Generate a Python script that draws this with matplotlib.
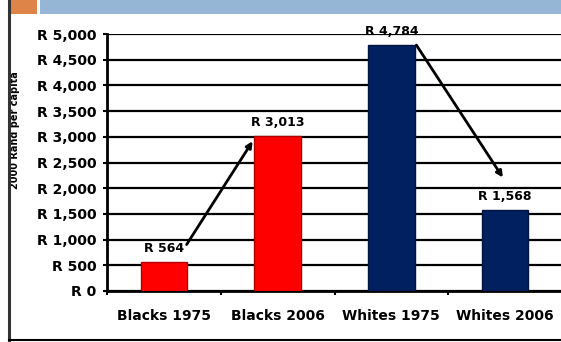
import numpy as np
import matplotlib
matplotlib.use('Agg')
import matplotlib.pyplot as plt
from matplotlib.patches import Rectangle
from matplotlib.lines import Line2D

plt.rcParams['font.family'] = ['DejaVu Sans']

# data
categories = ['Blacks 1975', 'Blacks 2006', 'Whites 1975', 'Whites 2006']
income = [564, 3013, 4784, 1568]
bar_colors = ['#FF0000', '#FF0000', '#002060', '#002060']
edge_colors = ['#B00000', '#B00000', '#001540', '#001540']

W, H = 561, 342
fig = plt.figure(figsize=(W / 100, H / 100), dpi=100)

# slide decoration
fig.add_artist(Rectangle((9 / W, 1 - 14 / H), 28 / W, 14 / H, transform=fig.transFigure,
                         facecolor='#DF8449', edgecolor='none'))
fig.add_artist(Rectangle((40 / W, 1 - 14 / H), 1 - 40 / W, 14 / H, transform=fig.transFigure,
                         facecolor='#95B7D5', edgecolor='none'))
fig.add_artist(Line2D([9 / W, 9 / W], [0, 1], transform=fig.transFigure, color='#333333', lw=2.2))
fig.add_artist(Line2D([9 / W, 1], [2.5 / H, 2.5 / H], transform=fig.transFigure, color='black', lw=1.5))

ax = fig.add_axes([107 / W, 51 / H, 455 / W, 257 / H])
x = np.arange(len(categories))
ax.bar(x, income, width=0.41, color=bar_colors, edgecolor=edge_colors, linewidth=1, zorder=3)

ax.set_xlim(-0.5, 3.5)
ax.set_ylim(0, 5000)
yt = np.arange(0, 5001, 500)
ax.set_yticks(yt)
ax.set_yticklabels([f'R {v:,}' for v in yt], fontsize=10, fontweight='bold')
ax.yaxis.grid(True, color='black', lw=1.6, zorder=0)
ax.tick_params(axis='y', length=3, width=1.5, pad=4.5)

ax.set_xticks(x)
ax.set_xticklabels(categories, fontsize=10, fontweight='bold')
ax.set_xticks(np.arange(-0.5, 3.0, 1), minor=True)
ax.tick_params(axis='x', which='major', length=0, pad=13)
ax.tick_params(axis='x', which='minor', length=3, width=1.5)

for s in ['top', 'right']:
    ax.spines[s].set_visible(False)
ax.spines['left'].set_linewidth(2)
ax.spines['bottom'].set_linewidth(2)

ax.set_ylabel('2000 Rand per capita', fontsize=7, fontweight='bold')
ax.yaxis.set_label_coords(-0.191, 0.626)

for xi, v in zip(x, income):
    ax.annotate(f'R {v:,}', (xi, v), xytext=(0, 5), textcoords='offset points',
                ha='center', va='bottom', fontsize=9, fontweight='bold', zorder=5)

# change arrows
arrow = dict(arrowstyle='-|>', color='black', lw=2, mutation_scale=9, shrinkA=0, shrinkB=0)
ax.annotate('', xy=(x[1] - 0.22, income[1] - 100), xytext=(x[0] + 0.2, income[0] + 340),
            arrowprops=arrow, zorder=6)
ax.annotate('', xy=(x[3] - 0.02, income[3] + 640), xytext=(x[2] + 0.22, income[2]),
            arrowprops=arrow, zorder=6)

fig.savefig('out.png', dpi=100)
